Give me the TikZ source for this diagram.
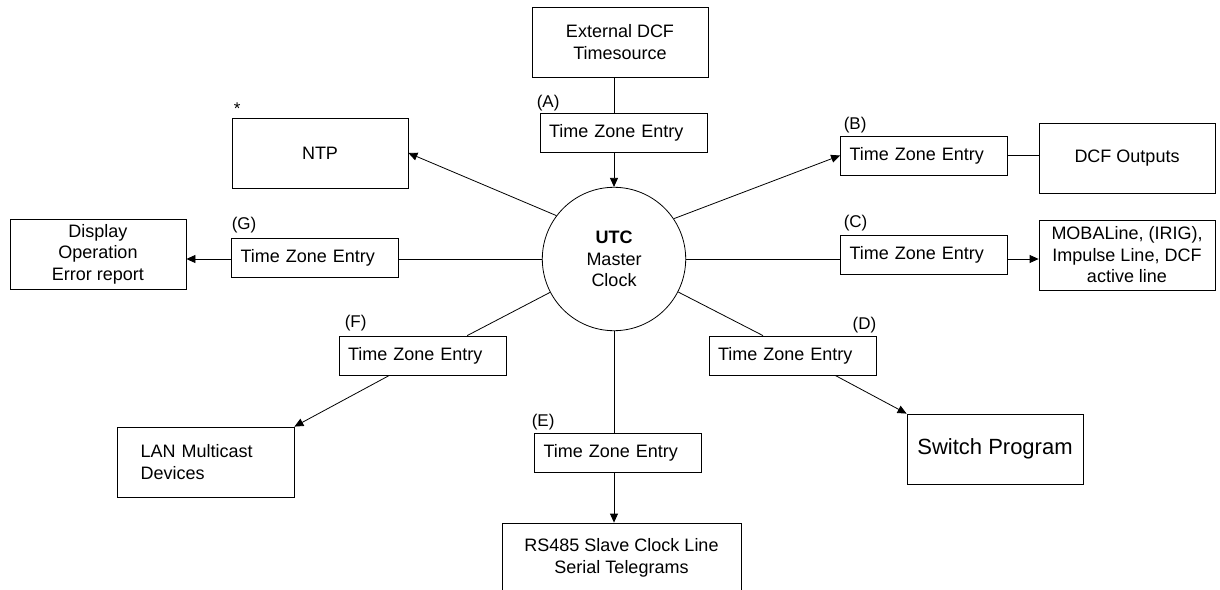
\documentclass[tikz,border=0pt]{standalone}
\usepackage{fontspec}
\setmainfont{Liberation Sans}
\usetikzlibrary{arrows.meta,calc}
\begin{document}
\begin{tikzpicture}[x=1pt,y=-1pt,
  every node/.style={font=\fontsize{18}{21.5}\selectfont},
  box/.style={draw, line width=0.8pt, minimum width=176pt, minimum height=70pt, inner sep=0pt, align=center},
  tze/.style={draw, line width=0.8pt, minimum width=167pt, minimum height=39pt, inner xsep=9pt, inner ysep=0pt, text width=149pt, align=left},
  lbl/.style={font=\fontsize{17}{20}\selectfont, inner sep=0pt, anchor=base west},
  conn/.style={line width=0.8pt},
  arr/.style={conn, -{Triangle[length=9pt,width=8pt]}}
]
\useasboundingbox (0,0) rectangle (1220,589);

% centre
\node[draw, circle, line width=0.8pt, minimum size=143.4pt, inner sep=0pt, align=center] (utc) at (614,259) {\textbf{UTC}\\Master\\Clock};

% boxes
\node[box] (ext) at (620,42) {External DCF\\Timesource};
\node[box] (ntp) at (320,153) {NTP};
\node[box] (disp) at (98,254) {Display\\Operation\\Error report};
\node[box] (dcfo) at (1127,158) {DCF Outputs};
\node[box] (moba) at (1127,255) {MOBALine, (IRIG),\\Impulse Line, DCF\\active line};
\node[box, font=\fontsize{22}{26}\selectfont] (sw) at (995,449) {Switch Program};
\node[box, minimum width=177pt, inner xsep=23.7pt, text width=129.6pt, align=left] (lan) at (205.5,462) {LAN Multicast\\Devices};
\node[box, minimum width=239pt] (rs) at (621.5,558) {RS485 Slave Clock Line\\Serial Telegrams};

% time zone entries
\node[tze] (tzA) at (623.5,133) {Time Zone Entry};
\node[tze] (tzB) at (924,155.5) {Time Zone Entry};
\node[tze] (tzC) at (924,254.5) {Time Zone Entry};
\node[tze] (tzD) at (792.5,355.5) {Time Zone Entry};
\node[tze] (tzE) at (618,453) {Time Zone Entry};
\node[tze] (tzF) at (422.5,355.5) {Time Zone Entry};
\node[tze] (tzG) at (315,257.5) {Time Zone Entry};

% labels
\node[lbl] (lA) at ($(tzA.north west)+(-3,-5.5)$) {(A)};
\node[lbl] (lB) at ($(tzB.north west)+(3.5,-6)$) {(B)};
\node[lbl] (lC) at ($(tzC.north west)+(3.5,-7.5)$) {(C)};
\node[lbl, anchor=base east] (lD) at ($(tzD.north east)+(0,-6.5)$) {(D)};
\node[lbl] (lE) at ($(tzE.north west)+(-2.5,-7)$) {(E)};
\node[lbl] (lF) at ($(tzF.north west)+(6,-8)$) {(F)};
\node[lbl] (lG) at ($(tzG.north west)+(0.5,-8)$) {(G)};
\node[lbl] (star) at ($(ntp.north west)+(2,-3)$) {*};

% connectors
\draw[conn] (utc |- ext.south) -- (utc |- tzA.north);
\draw[arr] (utc |- tzA.south) -- (utc.north);
\draw[arr] (utc.143) -- (ntp.east);
\draw[arr] (utc.34) -- (tzB.west);
\draw[conn] (tzB.east) -- (tzB.east -| dcfo.west);
\draw[conn] (utc.east) -- (utc -| tzC.west);
\draw[arr] (utc -| tzC.east) -- (utc -| moba.west);
\draw[conn] (utc.west) -- (utc -| tzG.east);
\draw[arr] (utc -| tzG.west) -- (utc -| disp.east);
\draw[conn] (utc) -- (tzD.146);
\draw[arr] (tzD.335) -- (sw.north west);
\draw[conn] (utc) -- (tzF.24);
\draw[arr] (tzF.211) -- (lan.north east);
\draw[conn] (utc.south) -- (utc |- tzE.north);
\draw[arr] (utc |- tzE.south) -- (utc |- rs.north);
\end{tikzpicture}
\end{document}
